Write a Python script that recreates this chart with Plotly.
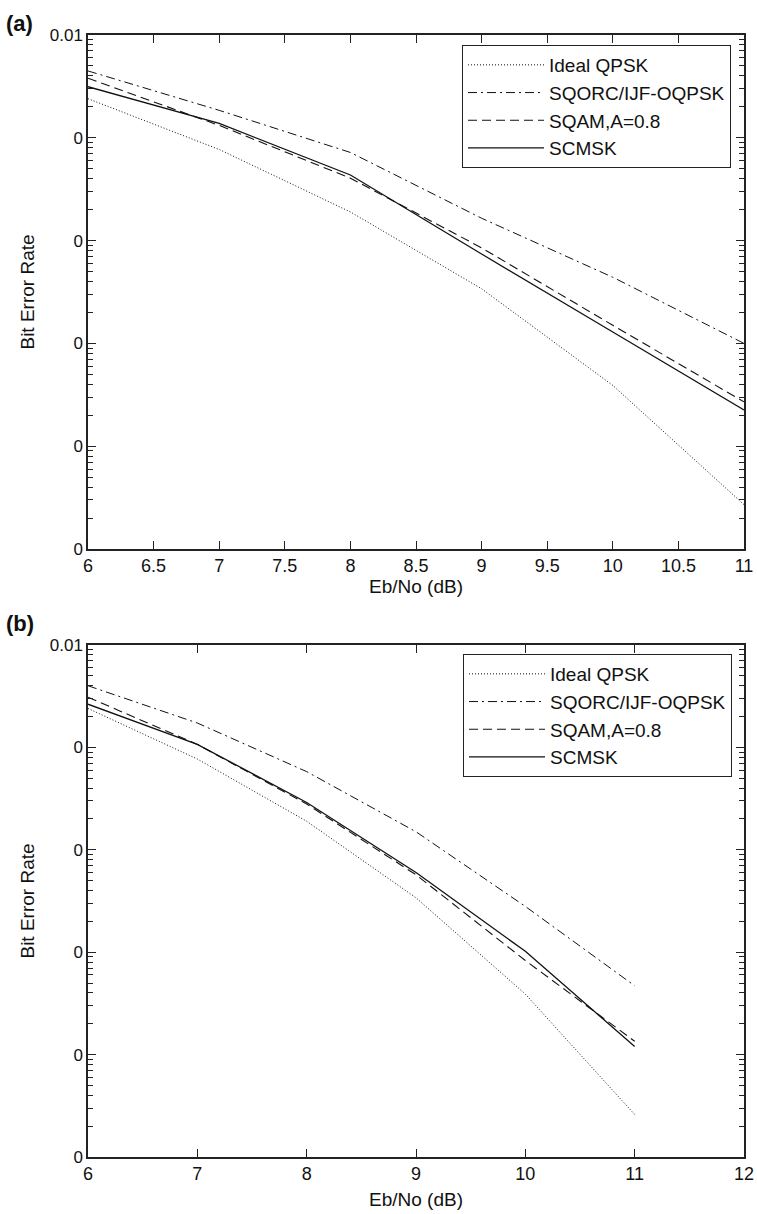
import plotly.graph_objects as go

# ---------------- data ----------------
ebno_a = [6, 7, 8, 9, 10, 11]
ideal_a = [2.4e-3, 7.7e-4, 1.9e-4, 3.4e-5, 3.9e-6, 2.7e-7]
sqorc_a = [4.47e-3, 1.85e-3, 7.2e-4, 1.65e-4, 4.4e-5, 1.0e-5]
sqam_a = [3.8e-3, 1.32e-3, 4.05e-4, 8.5e-5, 1.5e-5, 2.7e-6]
scmsk_a = [3.14e-3, 1.38e-3, 4.35e-4, 7.4e-5, 1.29e-5, 2.25e-6]

ebno_b = [6, 7, 8, 9, 10, 11]
ideal_b = [2.4e-3, 7.7e-4, 1.9e-4, 3.4e-5, 3.9e-6, 2.6e-7]
sqorc_b = [4.0e-3, 1.73e-3, 5.8e-4, 1.5e-4, 2.8e-5, 4.7e-6]
sqam_b = [3.09e-3, 1.07e-3, 2.8e-4, 5.7e-5, 8.3e-6, 1.35e-6]
scmsk_b = [2.64e-3, 1.07e-3, 2.9e-4, 6.0e-5, 1.02e-5, 1.2e-6]

names = ["Ideal QPSK", "SQORC/IJF-OQPSK", "SQAM,A=0.8", "SCMSK"]
dashes = ["1px,2px", "9px,4px,2px,4px", "9px,5px", "solid"]
widths = [1.0, 1.0, 1.1, 1.3]

xticks_a = [6, 6.5, 7, 7.5, 8, 8.5, 9, 9.5, 10, 10.5, 11]
xticks_b = [6, 7, 8, 9, 10, 11, 12]
minor_mult = [2, 3, 4, 5, 6, 7, 8, 9]
decades = [-7, -6, -5, -4, -3]

FONT = "Liberation Sans, Arial, Helvetica, sans-serif"
W, H = 757, 1214
INK = "#111111"

fig = go.Figure()

series_a = [ideal_a, sqorc_a, sqam_a, scmsk_a]
series_b = [ideal_b, sqorc_b, sqam_b, scmsk_b]

for i, (nm, ys) in enumerate(zip(names, series_a)):
    fig.add_trace(go.Scatter(
        x=ebno_a, y=ys, mode="lines", name=nm,
        line=dict(color=INK, width=widths[i], dash=dashes[i]),
        xaxis="x", yaxis="y", legend="legend"))
for i, (nm, ys) in enumerate(zip(names, series_b)):
    fig.add_trace(go.Scatter(
        x=ebno_b, y=ys, mode="lines", name=nm,
        line=dict(color=INK, width=widths[i], dash=dashes[i]),
        xaxis="x2", yaxis="y2", legend="legend2"))

x0, x1 = 88 / W, 744 / W
a_top, a_bot = 1 - 35 / H, 1 - 549 / H
b_top, b_bot = 1 - 645 / H, 1 - 1157 / H

title_font = dict(family=FONT, size=19, color=INK)
minor_vals = [m * 10.0 ** d for d in decades for m in minor_mult]

common_axis = dict(
    showline=True, linecolor="#222222", linewidth=1.5, mirror="ticks",
    ticks="inside", ticklen=8, tickwidth=1.3, tickcolor="#222222",
    showgrid=False, zeroline=False, automargin=False,
)

xa = dict(common_axis)
xa.update(domain=[x0, x1], range=[6, 11], tickmode="array", tickvals=xticks_a,
          ticktext=[("%g" % v) for v in xticks_a], anchor="y",
          tickfont=dict(family=FONT, size=18, color=INK))
xb = dict(common_axis)
xb.update(domain=[x0, x1], range=[6, 12], tickmode="array", tickvals=xticks_b,
          ticktext=[("%g" % v) for v in xticks_b], anchor="y2",
          tickfont=dict(family=FONT, size=18, color=INK))

ylog = dict(type="log", range=[-7, -2], tickmode="linear", tick0=0, dtick=1,
            exponentformat="power", showexponent="all",
            tickfont=dict(family=FONT, size=17, color=INK),
            minor=dict(tickmode="array", tickvals=minor_vals, ticks="inside",
                       ticklen=5, tickwidth=1.2, tickcolor="#222222", showgrid=False))

ya = dict(common_axis)
ya.update(ylog)
ya.update(domain=[a_bot, a_top], anchor="x",
          title=dict(text="Bit Error Rate", font=title_font, standoff=10))
yb = dict(common_axis)
yb.update(ylog)
yb.update(domain=[b_bot, b_top], anchor="x2",
          title=dict(text="Bit Error Rate", font=title_font, standoff=10))

leg_common = dict(
    xanchor="left", yanchor="top", bgcolor="white",
    bordercolor="#222222", borderwidth=1,
    font=dict(family=FONT, size=19, color=INK),
    tracegroupgap=0, itemwidth=76,
)
leg_a = dict(leg_common); leg_a.update(x=462 / W, y=1 - 45 / H)
leg_b = dict(leg_common); leg_b.update(x=463 / W, y=1 - 654 / H)

xmid = (x0 + x1) / 2

fig.update_layout(
    width=W, height=H, margin=dict(l=0, r=0, t=0, b=0, autoexpand=False),
    paper_bgcolor="white", plot_bgcolor="white",
    xaxis=xa, yaxis=ya, xaxis2=xb, yaxis2=yb,
    legend=leg_a, legend2=leg_b, showlegend=True,
    annotations=[
        dict(text="<b>(a)</b>", x=4 / W, y=1 - 23 / H, xref="paper", yref="paper",
             xanchor="left", yanchor="middle", showarrow=False,
             font=dict(family=FONT, size=22, color=INK)),
        dict(text="<b>(b)</b>", x=4 / W, y=1 - 623 / H, xref="paper", yref="paper",
             xanchor="left", yanchor="middle", showarrow=False,
             font=dict(family=FONT, size=22, color=INK)),
        dict(text="Eb/No (dB)", x=xmid, y=1 - 586 / H, xref="paper", yref="paper",
             xanchor="center", yanchor="middle", showarrow=False, font=title_font),
        dict(text="Eb/No (dB)", x=xmid, y=1 - 1199 / H, xref="paper", yref="paper",
             xanchor="center", yanchor="middle", showarrow=False, font=title_font),
    ],
)

fig.write_html("out.html")
